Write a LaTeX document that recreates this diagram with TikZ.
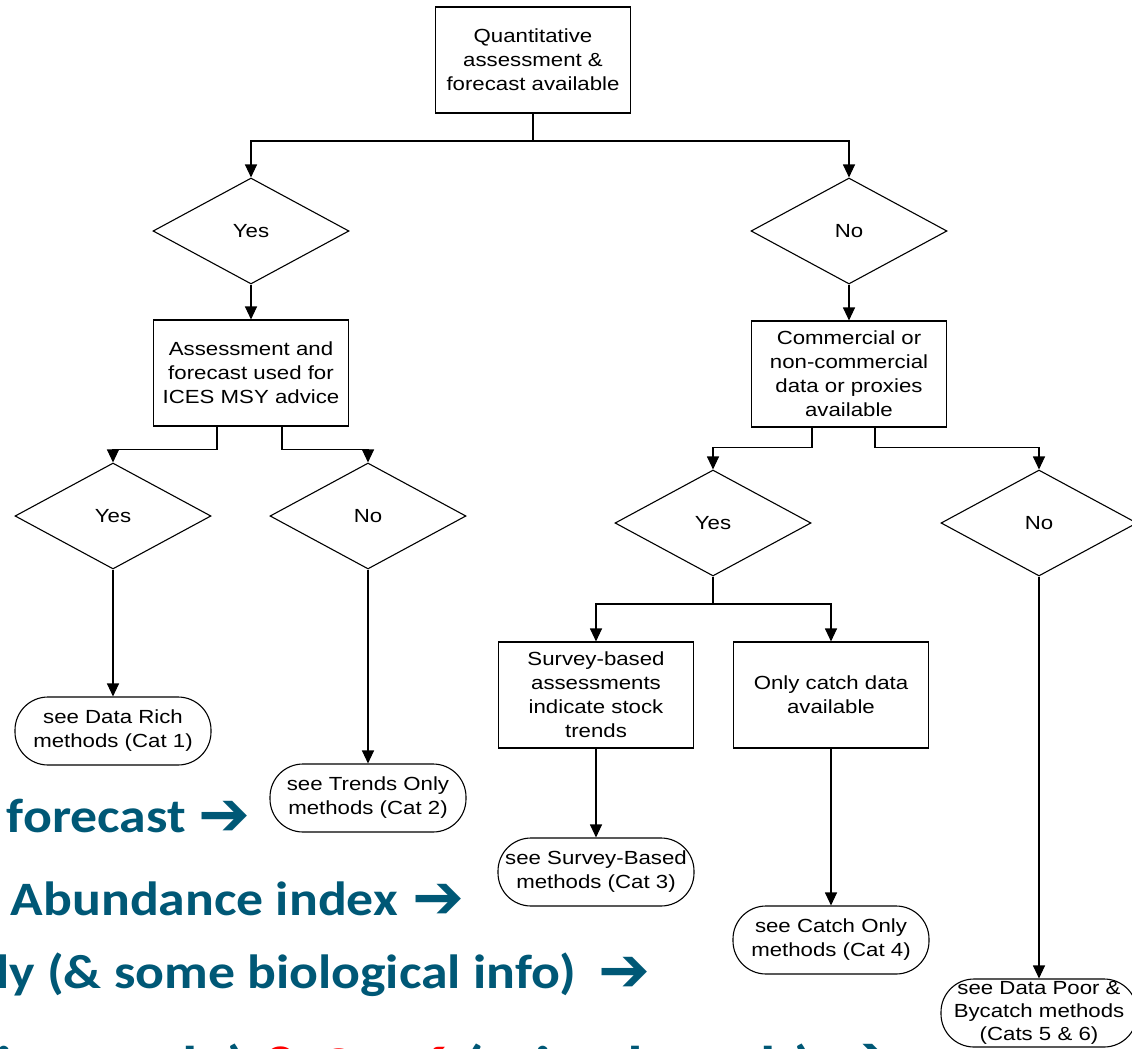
\documentclass[tikz,border=0pt]{standalone}
\usepackage{fontspec}
\usetikzlibrary{shapes.geometric,arrows.meta}
\newfontfamily\chartfont[FakeStretch=1.17]{Liberation Sans}
\newfontfamily\slidefont[FakeStretch=1.12]{Carlito}
\newfontfamily\arrowfont{DejaVu Sans}
\definecolor{slideteal}{RGB}{0,88,118}

\begin{document}
\begin{tikzpicture}[x=1pt,y=-1pt,
    every node/.style={font=\chartfont\fontsize{19}{24}\selectfont},
    box/.style={draw, line width=1.1pt, minimum width=195pt, minimum height=106pt, align=center, inner sep=2pt},
    choice/.style={draw, diamond, line width=1.1pt, minimum width=196pt, minimum height=106pt, inner sep=0pt},
    outcome/.style={draw, line width=1.1pt, rounded corners=33pt, minimum width=196pt, minimum height=68pt, align=center, inner sep=2pt},
    link/.style={line width=1.1pt},
    flow/.style={line width=1.1pt, -{Triangle[width=12pt,length=13pt]}},
    catline/.style={font=\slidefont\bfseries\fontsize{48}{58}\selectfont, text=slideteal, inner sep=0pt},
    catarrow/.style={font=\arrowfont\bfseries\fontsize{62}{62}\selectfont, text=slideteal, inner sep=0pt}]
        \clip (0,0) rectangle (1132,1049);

        % question boxes
        \node[box] (quant) at (533,60) {Quantitative\\assessment \&\\forecast available};
        \node[box] (msy) at (251,373) {Assessment and\\forecast used for\\ICES MSY advice};
        \node[box] (comm) at (849,374) {Commercial or\\non-commercial\\data or proxies\\available};
        \node[box] (survey) at (596,695) {Survey-based\\assessments\\indicate stock\\trends};
        \node[box] (catch) at (831,695) {Only catch data\\available};

        % yes / no
        \node[choice] (yesA) at (251,231) {Yes};
        \node[choice] (noA) at (849,231) {No};
        \node[choice] (yesB) at (113,516) {Yes};
        \node[choice] (noB) at (368,516) {No};
        \node[choice] (yesC) at (713,523) {Yes};
        \node[choice] (noC) at (1039,523) {No};

        % where to go
        \node[outcome] (cat1) at (113,731) {see Data Rich\\methods (Cat 1)};
        \node[outcome] (cat2) at (368,798) {see Trends Only\\methods (Cat 2)};
        \node[outcome] (cat3) at (596,872) {see Survey-Based\\methods (Cat 3)};
        \node[outcome] (cat4) at (831,940) {see Catch Only\\methods (Cat 4)};
        \node[outcome, font=\chartfont\fontsize{19}{23}\selectfont, inner sep=0pt] (cat56) at (1039,1013) {see Data Poor \&\\Bycatch methods\\(Cats 5 \& 6)};

        \coordinate (splitA) at (533,141);
        \draw[link] (quant) -- (splitA);
        \draw[flow] (splitA) -| (yesA.north);
        \draw[flow] (splitA) -| (noA.north);
        \draw[flow] (yesA) -- (msy);
        \draw[flow] (noA) -- (comm);

        \draw[flow] ([xshift=-34pt]msy.south) -- ++(0,23) -| (yesB.north);
        \draw[flow] ([xshift=31pt]msy.south) -- ++(0,23) -| (noB.north);
        \draw[flow] (yesB) -- (cat1);
        \draw[flow] (noB) -- (cat2);

        \draw[flow] ([xshift=-37pt]comm.south) -- ++(0,20) -| (yesC.north);
        \draw[flow] ([xshift=26pt]comm.south) -- ++(0,20) -| (noC.north);
        \coordinate (splitC) at (713,604);
        \draw[link] (yesC) -- (splitC);
        \draw[flow] (splitC) -| (survey.north);
        \draw[flow] (splitC) -| (catch.north);
        \draw[flow] (survey) -- (cat3);
        \draw[flow] (catch) -- (cat4);
        \draw[flow] (noC) -- (cat56);

        % categories over the chart
        \node[catline, anchor=base east] (rowA) at (186,832) {forecast};
        \node[catarrow, anchor=base west] (arrA) at (198,835) {➔};
        \node[catline, anchor=base east] (rowB) at (398,915) {Relative Abundance index};
        \node[catarrow, anchor=base west] (arrB) at (412,918) {➔};
        \node[catline, anchor=base east] (rowC) at (576,988) {Catch only (\& some biological info)};
        \node[catarrow, anchor=base west] (arrC) at (598,991) {➔};
        \node[catline, font=\slidefont\bfseries\fontsize{56}{64}\selectfont, anchor=base east] (rowD) at (814,1085) {Cat 5 (landings only) {\color{red}\& Cat 6} (mixed catch)};
        \node[catarrow, anchor=base west] (arrD) at (838,1078) {➔};
\end{tikzpicture}
\end{document}
